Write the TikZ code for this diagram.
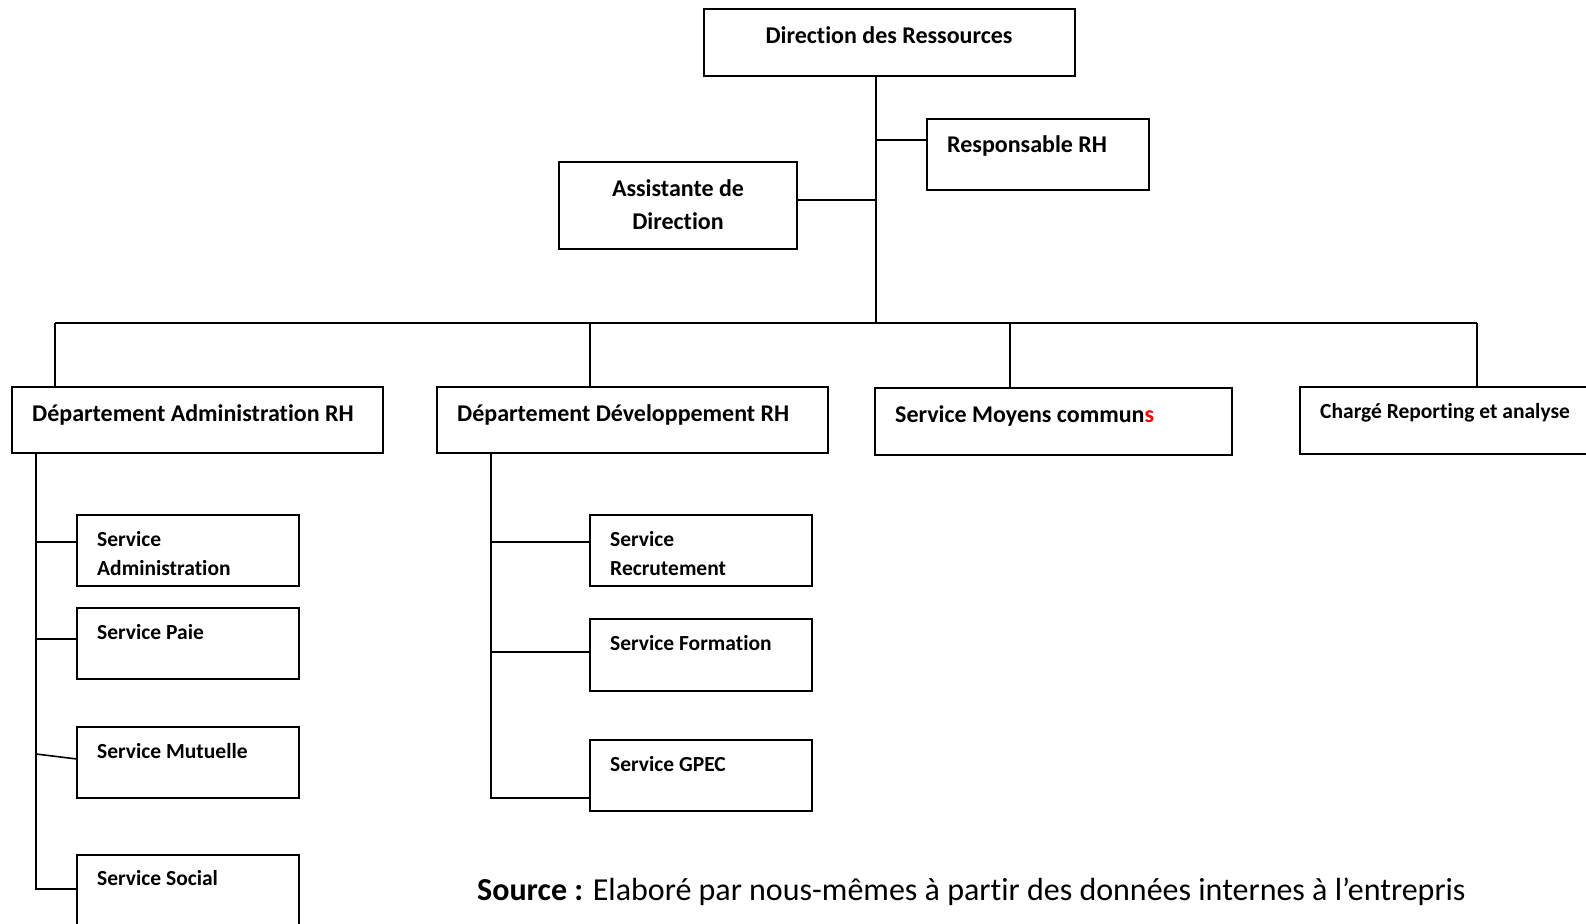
\documentclass[tikz,border=0pt]{standalone}
\usepackage{fontspec}
\setmainfont{Carlito}[Ligatures={NoCommon}]
\begin{document}
\begin{tikzpicture}[x=1pt,y=-1pt,
  box/.style={draw=black,line width=1.6pt,rectangle,anchor=north west,inner sep=0pt,outer sep=0pt},
  lbl/.style={anchor=base west,inner sep=0pt,font=\bfseries\fontsize{24}{28}\selectfont},
  slbl/.style={anchor=base west,inner sep=0pt,font=\bfseries\fontsize{21.5}{25}\selectfont},
  conn/.style={draw=black,line width=1.6pt}]
\useasboundingbox (0,0) rectangle (1586,923);
\clip (0,0) rectangle (1586,923);
\fill[white] (0,0) rectangle (1586,923);
% boxes
\node[box,minimum width=371pt,minimum height=67pt] (dir) at (704,9) {};
\node[box,minimum width=222pt,minimum height=71pt] (resp) at (927,119) {};
\node[box,minimum width=238pt,minimum height=87pt] (assist) at (559,162) {};
\node[box,minimum width=371pt,minimum height=66pt] (dadm) at (12,387) {};
\node[box,minimum width=391pt,minimum height=66pt] (ddev) at (437,387) {};
\node[box,minimum width=357pt,minimum height=67pt] (smoy) at (875,388) {};
\node[box,minimum width=300pt,minimum height=67pt] (charge) at (1300,387) {};
\node[box,minimum width=222pt,minimum height=71pt] (sadm) at (77,515) {};
\node[box,minimum width=222pt,minimum height=71pt] (spaie) at (77,608) {};
\node[box,minimum width=222pt,minimum height=71pt] (smut) at (77,727) {};
\node[box,minimum width=222pt,minimum height=80pt] (ssoc) at (77,855) {};
\node[box,minimum width=222pt,minimum height=71pt] (srec) at (590,515) {};
\node[box,minimum width=222pt,minimum height=72pt] (sfor) at (590,619) {};
\node[box,minimum width=222pt,minimum height=71pt] (sgpec) at (590,740) {};
% labels
\node[lbl,anchor=base] (tdir) at (889,44) {Direction des Ressources};
\node[lbl] (tresp) at (947,152) {Responsable RH};
\node[lbl,anchor=base] (tas1) at (678,196) {Assistante de};
\node[lbl,anchor=base] (tas2) at (678,229) {Direction};
\node[lbl] (tdadm) at (32,421) {Département Administration RH};
\node[lbl] (tddev) at (457,421) {Département Développement RH};
\node[lbl] (tsmoy) at (895,422) {Service Moyens commun\textcolor{red}{s}};
\node[slbl] (tcharge) at (1320,418) {Chargé Reporting et analyse};
\node[slbl] (tsadm1) at (97,546) {Service};
\node[slbl] (tsadm2) at (97,575) {Administration};
\node[slbl] (tspaie) at (97,639) {Service Paie};
\node[slbl] (tsmut) at (97,758) {Service Mutuelle};
\node[slbl] (tssoc) at (97,885) {Service Social};
\node[slbl] (tsrec1) at (610,546) {Service};
\node[slbl] (tsrec2) at (610,575) {Recrutement};
\node[slbl] (tsfor) at (610,650) {Service Formation};
\node[slbl] (tsgpec) at (610,771) {Service GPEC};
\node[anchor=base west,inner sep=0pt,font=\fontsize{32}{36}\selectfont] (src) at (477,900) {\textbf{Source :} Elaboré par nous-mêmes à partir des données internes à l’entrepris};
% coordinates
\coordinate (tb) at (876,323);
\coordinate (b1) at (55,323);
\coordinate (b2) at (590,323);
\coordinate (b3) at (1010,323);
\coordinate (b4) at (1477,323);
\coordinate (as) at (36,889);
\coordinate (ds) at (491,798);
% connectors
\draw[conn] (tb |- dir.south) -- (tb);
\draw[conn] (resp.west |- 0,140) -- (tb |- 0,140);
\draw[conn] (assist.east |- 0,200) -- (tb |- 0,200);
\draw[conn] (b1) -- (b4);
\draw[conn] (b1) -- (b1 |- dadm.north);
\draw[conn] (b2) -- (b2 |- ddev.north);
\draw[conn] (b3) -- (b3 |- smoy.north);
\draw[conn] (b4) -- (b4 |- charge.north);
\draw[conn] (as |- dadm.south) -- (as) -- (as -| ssoc.west);
\draw[conn] (as |- 0,542) -- (sadm.west |- 0,542);
\draw[conn] (as |- 0,639) -- (spaie.west |- 0,639);
\draw[conn] (as |- 0,754) -- (smut.west |- 0,759);
\draw[conn] (ds |- ddev.south) -- (ds) -- (ds -| sgpec.west);
\draw[conn] (ds |- 0,542) -- (srec.west |- 0,542);
\draw[conn] (ds |- 0,652) -- (sfor.west |- 0,652);
\end{tikzpicture}
\end{document}
